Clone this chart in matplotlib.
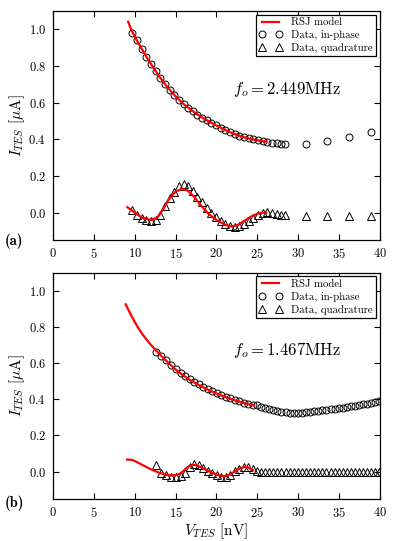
import numpy as np
import matplotlib
matplotlib.use("Agg")
import matplotlib.pyplot as plt

plt.rcParams["font.family"] = "serif"
plt.rcParams["font.serif"] = ["cmr10", "DejaVu Serif"]
plt.rcParams["mathtext.fontset"] = "cm"
plt.rcParams["axes.unicode_minus"] = False
plt.rcParams["axes.formatter.use_mathtext"] = True

# ===============================
# panel (a), f_o = 2.449 MHz
# ===============================

va_data = [9.70, 10.27, 10.84, 11.41, 11.98, 12.55, 13.12, 13.69, 14.26, 14.83,
           15.40, 15.97, 16.54, 17.11, 17.68, 18.25, 18.82, 19.39, 19.96, 20.53,
           21.10, 21.67, 22.24, 22.81, 23.38, 23.95, 24.52, 25.09, 25.66, 26.23,
           26.80, 27.37, 27.94, 28.40, 30.90, 33.55, 36.25, 38.95]
ia_inphase = [0.980, 0.940, 0.894, 0.850, 0.810, 0.772, 0.735, 0.700, 0.671, 0.643,
              0.616, 0.592, 0.572, 0.552, 0.534, 0.518, 0.503, 0.490, 0.476, 0.462,
              0.450, 0.439, 0.429, 0.419, 0.411, 0.405, 0.400, 0.395, 0.390, 0.386,
              0.381, 0.377, 0.375, 0.374, 0.376, 0.390, 0.413, 0.440]
ia_quad = [0.015, -0.015, -0.030, -0.040, -0.045, -0.040, -0.015, 0.035, 0.080, 0.115,
           0.145, 0.155, 0.145, 0.120, 0.088, 0.060, 0.028, 0.000, -0.025, -0.045,
           -0.060, -0.072, -0.078, -0.072, -0.060, -0.045, -0.028, -0.010, 0.000, 0.002,
           -0.002, -0.008, -0.012, -0.014, -0.017, -0.017, -0.017, -0.017]

va_model = [9.2, 9.6, 10.0, 10.5, 11.0, 11.5, 12.0, 13.0, 14.0, 15.0, 16.0, 17.0,
            18.0, 19.0, 20.0, 21.0, 22.0, 23.0, 24.0, 25.0, 26.1]
ia_model = [1.040, 0.995, 0.960, 0.920, 0.882, 0.845, 0.810, 0.742, 0.684, 0.634,
            0.591, 0.556, 0.525, 0.499, 0.475, 0.452, 0.432, 0.416, 0.404, 0.394, 0.387]

va_model_q = [9.1, 10.0, 11.0, 12.0, 12.8, 13.5, 14.2, 15.0, 15.8, 16.5, 17.2, 18.0,
              19.0, 20.0, 21.0, 21.8, 22.6, 23.4, 24.2, 25.0, 25.6, 26.1]
ia_model_q = [0.030, 0.000, -0.030, -0.040, -0.025, 0.020, 0.075, 0.115, 0.130, 0.120,
              0.090, 0.045, -0.005, -0.040, -0.065, -0.075, -0.068, -0.045, -0.022,
              -0.006, 0.000, 0.000]

# ===============================
# panel (b), f_o = 1.467 MHz
# ===============================

vb_data = [12.65, 13.25, 13.85, 14.45, 15.05, 15.65, 16.20, 16.75, 17.30, 17.85,
           18.40, 18.95, 19.50, 20.05, 20.60, 21.15, 21.70, 22.25, 22.80, 23.35,
           23.90, 24.45, 24.95, 25.45, 25.95, 26.45, 26.95, 27.45, 27.95, 28.45,
           28.95, 29.45, 29.95, 30.45, 30.95, 31.45, 31.95, 32.45, 32.95, 33.45,
           33.95, 34.45, 34.95, 35.45, 35.95, 36.45, 36.95, 37.45, 37.95, 38.45,
           38.95, 39.45, 39.90]
ib_inphase = [0.664, 0.640, 0.616, 0.591, 0.566, 0.545, 0.527, 0.510, 0.495, 0.482,
              0.469, 0.456, 0.444, 0.433, 0.423, 0.414, 0.405, 0.397, 0.389, 0.382,
              0.376, 0.370, 0.366, 0.360, 0.354, 0.348, 0.342, 0.336, 0.331, 0.328,
              0.326, 0.325, 0.325, 0.326, 0.328, 0.330, 0.333, 0.336, 0.339, 0.342,
              0.345, 0.348, 0.351, 0.354, 0.357, 0.361, 0.364, 0.368, 0.372, 0.376,
              0.380, 0.384, 0.388]
ib_quad = [0.036, -0.009, -0.018, -0.027, -0.029, -0.025, -0.005, 0.025, 0.040, 0.035,
           0.018, 0.005, -0.008, -0.018, -0.027, -0.030, -0.018, 0.002, 0.017, 0.027,
           0.025, 0.015, 0.005, 0.000, -0.003, -0.004, -0.004, -0.003, -0.002, -0.002,
           -0.001, -0.001, 0.000, -0.001, 0.000, 0.000, -0.001, 0.000, 0.000, 0.000,
           -0.001, 0.000, 0.000, 0.000, 0.000, -0.001, 0.000, 0.000, 0.000, 0.000,
           0.000, 0.000, 0.000]

vb_model = [8.9, 9.5, 10.0, 10.5, 11.0, 11.5, 12.0, 12.65, 13.25, 14.0, 15.0, 16.0,
            17.0, 18.0, 19.0, 20.0, 21.0, 22.0, 23.0, 24.0, 24.6]
ib_model = [0.925, 0.870, 0.828, 0.790, 0.757, 0.727, 0.700, 0.668, 0.640, 0.607,
            0.565, 0.530, 0.500, 0.475, 0.452, 0.432, 0.414, 0.398, 0.384, 0.372, 0.366]

vb_model_q = [9.06, 9.6, 10.2, 11.0, 11.8, 12.65, 13.3, 13.9, 14.5, 15.0, 15.6, 16.1,
              16.6, 17.1, 17.6, 18.2, 18.8, 19.4, 20.0, 20.6, 21.2, 21.7, 22.2, 22.8,
              23.4, 23.9, 24.5]
ib_model_q = [0.067, 0.066, 0.055, 0.036, 0.017, 0.000, -0.010, -0.018, -0.020, -0.019,
              -0.010, 0.010, 0.030, 0.038, 0.035, 0.022, 0.008, -0.005, -0.016, -0.024,
              -0.025, -0.015, 0.000, 0.017, 0.026, 0.022, 0.008]

panels = [
    (va_data, ia_inphase, ia_quad, va_model, ia_model, va_model_q, ia_model_q,
     r"$f_o = 2.449$MHz", "(a)"),
    (vb_data, ib_inphase, ib_quad, vb_model, ib_model, vb_model_q, ib_model_q,
     r"$f_o = 1.467$MHz", "(b)"),
]

fig = plt.figure(figsize=(3.95, 5.41), dpi=100)
ax_a = fig.add_axes([0.134, 0.556, 0.828, 0.424])
ax_b = fig.add_axes([0.134, 0.078, 0.828, 0.418])
label_y = [1 - 241 / 541, 1 - 503 / 541]

for ax, p, ly in zip([ax_a, ax_b], panels, label_y):
    v, i_in, i_q, vm, im, vmq, imq, ftext, tag = p
    ax.plot(vm, im, color="red", lw=1.6, label="RSJ model", zorder=3)
    ax.plot(vmq, imq, color="red", lw=1.6, zorder=3)
    ax.plot(v, i_in, "o", mfc="none", mec="black", mew=0.7, ms=5,
            label="Data, in-phase", zorder=2)
    ax.plot(v, i_q, "^", mfc="none", mec="black", mew=0.7, ms=5.5,
            label="Data, quadrature", zorder=2)

    ax.set_xlim(0, 40)
    ax.set_ylim(-0.15, 1.1)
    ax.set_xticks(np.arange(0, 41, 5))
    ax.set_yticks(np.arange(0, 1.01, 0.2))
    ax.tick_params(direction="in", top=True, right=True, length=4,
                   labelsize=9, pad=5)
    for s in ax.spines.values():
        s.set_linewidth(0.9)
    ax.set_ylabel(r"$I_{TES}$ [$\mu$A]", fontsize=11, labelpad=1)

    leg = ax.legend(loc="upper right", numpoints=2, fontsize=7.8, fancybox=False,
                    edgecolor="black", framealpha=1, borderaxespad=0.35,
                    handlelength=2.2, handletextpad=0.8, borderpad=0.3,
                    labelspacing=0.25)
    leg.get_frame().set_linewidth(0.9)

    ax.text(22.0, 0.67, ftext, fontsize=12, va="center")
    fig.text(0.012, ly, tag, fontsize=10.5, family="cmb10", va="center")

ax_b.set_xlabel(r"$V_{TES}$ [nV]", fontsize=11, labelpad=1)

fig.savefig("out.png", dpi=100)
